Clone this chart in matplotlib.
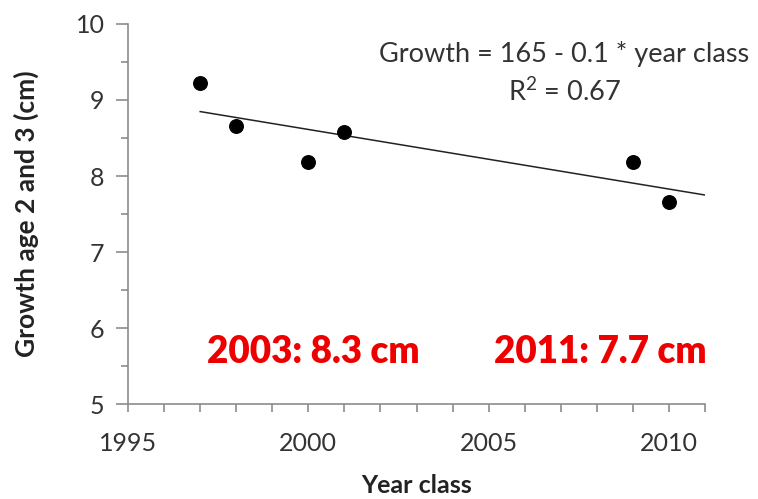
import matplotlib.pyplot as plt
from matplotlib.ticker import MultipleLocator
import numpy as np

# year classes and growth between age 2 and 3 (cm)
year_class = np.array([1997, 1998, 2000, 2001, 2009, 2010])
growth = np.array([9.22, 8.66, 8.19, 8.58, 8.19, 7.66])

# range of the fitted trend line
trend_start = 1997
trend_end = 2011

equation_text = "Growth = 165 - 0.1 * year class"
r2_text = "R$^2$ = 0.67"
note_left = "2003: 8.3 cm"
note_right = "2011: 7.7 cm"

plt.rcParams['font.family'] = ['Lato', 'DejaVu Sans']
plt.rcParams['mathtext.default'] = 'regular'

fig = plt.figure(figsize=(7.58, 4.99), dpi=100)
ax = fig.add_axes([0.169, 0.190, 0.761, 0.762])

# linear fit
slope, intercept = np.polyfit(year_class, growth, 1)
tx = np.array([trend_start, trend_end])
ax.plot(tx, intercept + slope * tx, color='#222222', lw=1.1, zorder=2)

ax.scatter(year_class, growth, s=95, color='black', zorder=3)

ax.set_xlim(1995, 2011)
ax.set_ylim(5, 10)
ax.xaxis.set_major_locator(MultipleLocator(5))
ax.xaxis.set_minor_locator(MultipleLocator(1))
ax.yaxis.set_major_locator(MultipleLocator(1))
ax.yaxis.set_minor_locator(MultipleLocator(0.5))

for side in ['top', 'right']:
    ax.spines[side].set_visible(False)
for side in ['left', 'bottom']:
    ax.spines[side].set_color('#8c8c8c')
    ax.spines[side].set_linewidth(1.2)

ax.tick_params(axis='both', which='both', direction='out', color='#8c8c8c', width=1.2)
ax.tick_params(axis='y', which='major', length=9, labelsize=18, pad=8, labelcolor='#333333')
ax.tick_params(axis='y', which='minor', length=5)
ax.tick_params(axis='x', which='both', length=6)
ax.tick_params(axis='x', which='major', labelsize=18, pad=14, labelcolor='#333333')

ax.set_xlabel('Year class', fontsize=18, fontweight='bold', labelpad=14, color='#222222')
ax.set_ylabel('Growth age 2 and 3 (cm)', fontsize=19, fontweight='bold', labelpad=26, color='#222222')

ax.text(0.756, 0.922, equation_text, transform=ax.transAxes, ha='center', va='center',
        fontsize=19.5, color='#333333')
ax.text(0.756, 0.822, r2_text, transform=ax.transAxes, ha='center', va='center',
        fontsize=19.5, color='#333333')

ax.text(0.321, 0.137, note_left, transform=ax.transAxes, ha='center', va='center',
        fontsize=26.5, fontweight='heavy', color='#ee0000')
ax.text(0.819, 0.137, note_right, transform=ax.transAxes, ha='center', va='center',
        fontsize=26.5, fontweight='heavy', color='#ee0000')

fig.savefig('out.png', dpi=100)
